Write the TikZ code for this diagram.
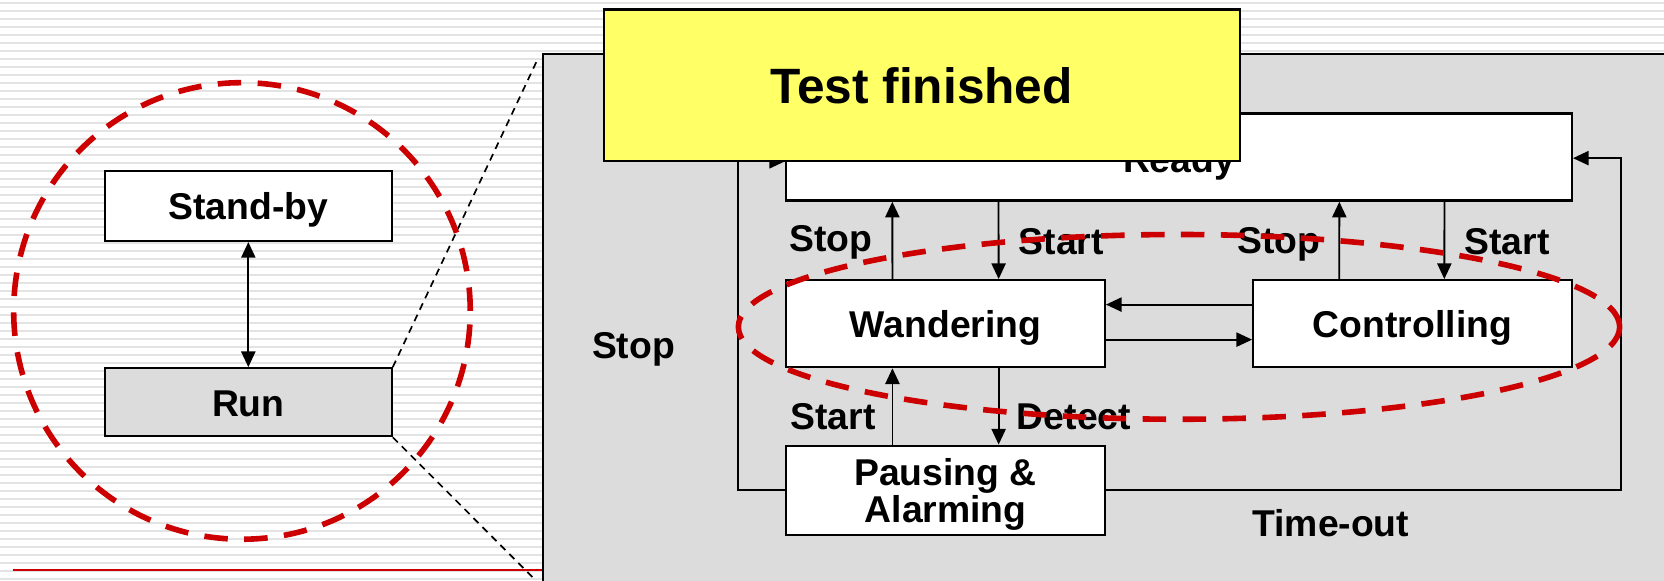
\documentclass[tikz,border=0pt]{standalone}
\usepackage{fontspec}
\setmainfont{Liberation Sans}
\usetikzlibrary{arrows.meta}
\definecolor{panelgray}{HTML}{DCDCDC}
\definecolor{notey}{HTML}{FFFF66}
\definecolor{markred}{HTML}{CC0000}

\begin{document}
\begin{tikzpicture}[x=0.01cm,y=-0.01cm,
    >={Triangle[length=4.2pt,width=3.8pt]},
    state/.style={draw,rectangle,fill=white,line width=0.6pt,inner sep=0pt,text depth=0pt,
        minimum width=3cm,minimum height=0.82cm,font=\bfseries,align=center},
    lbl/.style={font=\bfseries},
    link/.style={line width=0.5pt},
    ring/.style={draw=markred,line width=1.5pt,dash pattern=on 6.3pt off 4.4pt},
    zoomline/.style={line width=0.45pt,dash pattern=on 1.9pt off 1.5pt}]
    \useasboundingbox (0,0) rectangle (1568,547);

    % slide background
    \foreach \i in {0,...,72}
        \draw[gray!22,line width=0.6pt] (0,\i*7.54+3) -- (1568,\i*7.54+3);
    \draw[markred,line width=0.4pt] (12,537) -- (512,537);

    % zoomed panel
    \fill[panelgray] (512,51) rectangle (1568,547);
    \draw[line width=0.6pt] (512,547) -- (512,51) -- (1568,51);

    % top level
    \node[state,minimum width=2.7cm,minimum height=0.66cm] (standby) at (234,194) {Stand-by};
    \node[state,fill=panelgray,minimum width=2.7cm,minimum height=0.64cm] (run) at (234,379) {\raisebox{-0.2mm}{Run}};
    \draw[link,<->] (standby) -- (run);

    \coordinate (zoomtop) at (507,55);
    \coordinate (zoombot) at (505,547);
    \draw[zoomline] (run.north east) -- (zoomtop);
    \draw[zoomline] (run.south east) -- (zoombot);
    \draw[ring] (228,293) circle [radius=2.15cm];

    % inside Run
    \node[state,minimum width=7.4cm] (ready) at (1111,148) {\raisebox{-0.4mm}{Ready}};
    \node[state] (wander) at (891,305) {Wandering};
    \node[state] (ctrl) at (1331,305) {Controlling};
    \node[state,minimum height=0.84cm,font={\fontsize{10}{10}\selectfont\bfseries}] (pause) at (891,462) {Pausing \&\\Alarming};

    \draw[link,->] ([xshift=-5mm]wander.north) -- ([xshift=-2.7cm]ready.south);
    \draw[link,->] ([xshift=-1.7cm]ready.south) -- ([xshift=5mm]wander.north);
    \draw[link,->] ([xshift=-6.9mm]ctrl.north) -- ([xshift=1.51cm]ready.south);
    \draw[link,->] ([xshift=2.5cm]ready.south) -- ([xshift=3mm]ctrl.north);
    \draw[link,->] ([yshift=1.8mm]ctrl.west) -- ([yshift=1.8mm]wander.east);
    \draw[link,->] ([yshift=-1.5mm]wander.east) -- ([yshift=-1.5mm]ctrl.west);
    \draw[link,->] ([xshift=-5mm]pause.north) -- ([xshift=-5mm]wander.south);
    \draw[link,->] ([xshift=5mm]wander.south) -- ([xshift=5mm]pause.north);
    \draw[link,->] (pause.west) -| ([xshift=-4.4mm,yshift=-0.4mm]ready.west) -- ([yshift=-0.4mm]ready.west);
    \draw[link,->] (pause.east) -| ([xshift=4.5mm,yshift=-0.1mm]ready.east) -- ([yshift=-0.1mm]ready.east);

    \node[lbl] (stopw) at (783,228) {Stop};
    \node[lbl] (startw) at (1000,228) {Start};
    \node[lbl] (stopc) at (1205,230) {Stop};
    \node[lbl] (startc) at (1420,228) {Start};
    \node[lbl] (startp) at (785,393) {Start};
    \node[lbl] (detect) at (1012,393) {Detect};
    \node[lbl] (stopp) at (597,329) {Stop};
    \node[lbl] (timeout) at (1254,493) {Time-out};

    \draw[ring] (1111,308) ellipse [x radius=4.15cm,y radius=0.87cm];

    \node[draw,fill=notey,line width=0.6pt,inner sep=0pt,minimum width=5.99cm,minimum height=1.43cm,
        font={\fontsize{13.3}{16}\selectfont\bfseries}] (note) at (868.5,80.5) {Test finished};
\end{tikzpicture}
\end{document}
